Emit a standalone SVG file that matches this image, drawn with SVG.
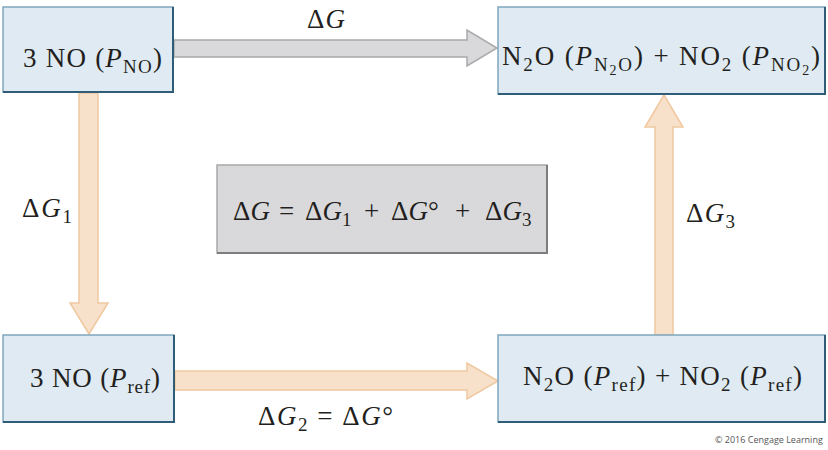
<svg xmlns="http://www.w3.org/2000/svg" width="828" height="450" viewBox="0 0 828 450">
<style>
  .t { font-family: "Liberation Serif", "Times New Roman", serif; font-size: 27px; fill: #231f20; }
  .i { font-style: italic; }
  .s { font-size: 19px; }
  .ss { font-size: 14px; }
  .box { fill: #dfeaf2; stroke: #7fa6bd; stroke-width: 1.5; }
  .shadow { fill: none; stroke: #2f5d78; stroke-width: 2; }
  .gbox { fill: #d9d9db; stroke: #a8a8a8; stroke-width: 1.5; }
  .gshadow { fill: none; stroke: #7d7d7d; stroke-width: 2; }
  .ga { fill: #d9d9db; stroke: #a9a9a9; stroke-width: 1.5; stroke-linejoin: miter; }
  .pa { fill: #f8e1ca; stroke: #efc8a0; stroke-width: 1.5; stroke-linejoin: miter; }
  .copy { font-family: "Open Sans", "Liberation Sans", sans-serif; font-size: 9px; fill: #555; }
</style>
<g id="connectors">
  <polygon class="ga" points="174,40 467,40 467,30 497,48 467,66 467,57 174,57"/>
  <polygon class="pa" points="79,93 79,303 70,303 89,334 108,303 98,303 98,93"/>
  <polygon class="pa" points="655,335 655,127 645,127 664,95 683,127 673,127 673,335"/>
  <polygon class="pa" points="175,371 467,371 467,363 498,381 467,399 467,390 175,390"/>
</g>
<g id="node-3NO-PNO">
  <rect class="box" x="3" y="7" width="170" height="85"/>
  <polyline class="shadow" points="173,7 173,92 3,92"/>
  <text class="t" x="23" y="67" textLength="139" lengthAdjust="spacing">3 NO (<tspan class="i">P</tspan><tspan class="s" dy="6">NO</tspan><tspan dy="-6">)</tspan></text>
</g>
<g id="node-products-P">
  <rect class="box" x="498" y="7" width="327" height="87"/>
  <polyline class="shadow" points="825,7 825,94 498,94"/>
  <text class="t" x="502" y="65" textLength="318" lengthAdjust="spacing">N<tspan class="s" dy="6">2</tspan><tspan dy="-6">O (</tspan><tspan class="i">P</tspan><tspan class="s" dy="6">N</tspan><tspan class="ss" dy="4">2</tspan><tspan class="s" dy="-4">O</tspan><tspan dy="-6">) + NO</tspan><tspan class="s" dy="6">2</tspan><tspan dy="-6"> (</tspan><tspan class="i">P</tspan><tspan class="s" dy="6">NO</tspan><tspan class="ss" dy="4">2</tspan><tspan dy="-10">)</tspan></text>
</g>
<g id="node-3NO-Pref">
  <rect class="box" x="3" y="335" width="171" height="87"/>
  <polyline class="shadow" points="174,335 174,422 3,422"/>
  <text class="t" x="30" y="387" textLength="130" lengthAdjust="spacing">3 NO (<tspan class="i">P</tspan><tspan class="s" dy="6">ref</tspan><tspan dy="-6">)</tspan></text>
</g>
<g id="node-products-Pref">
  <rect class="box" x="498" y="335" width="327" height="87"/>
  <polyline class="shadow" points="825,335 825,422 498,422"/>
  <text class="t" x="523" y="385" textLength="279" lengthAdjust="spacing">N<tspan class="s" dy="6">2</tspan><tspan dy="-6">O (</tspan><tspan class="i">P</tspan><tspan class="s" dy="6">ref</tspan><tspan dy="-6">) + NO</tspan><tspan class="s" dy="6">2</tspan><tspan dy="-6"> (</tspan><tspan class="i">P</tspan><tspan class="s" dy="6">ref</tspan><tspan dy="-6">)</tspan></text>
</g>
<g id="node-equation">
  <rect class="gbox" x="217" y="165" width="330" height="88"/>
  <polyline class="gshadow" points="547,165 547,253 217,253"/>
  <text class="t" y="220"><tspan x="233">Δ</tspan><tspan class="i">G</tspan><tspan x="279">=</tspan><tspan x="305">Δ</tspan><tspan class="i">G</tspan><tspan class="s" dy="6">1</tspan><tspan x="364" dy="-6">+</tspan><tspan x="391">Δ</tspan><tspan class="i">G</tspan>°<tspan x="455">+</tspan><tspan x="485">Δ</tspan><tspan class="i">G</tspan><tspan class="s" dy="6">3</tspan></text>
</g>
<g id="labels">
  <text class="t" x="307" y="28" textLength="38" lengthAdjust="spacing">Δ<tspan class="i">G</tspan></text>
  <text class="t" x="22" y="217" textLength="50" lengthAdjust="spacing">Δ<tspan class="i">G</tspan><tspan class="s" dy="6">1</tspan></text>
  <text class="t" x="686" y="222" textLength="49" lengthAdjust="spacing">Δ<tspan class="i">G</tspan><tspan class="s" dy="6">3</tspan></text>
  <text class="t" x="258" y="425" textLength="135" lengthAdjust="spacing">Δ<tspan class="i">G</tspan><tspan class="s" dy="6">2</tspan><tspan dy="-6"> = Δ</tspan><tspan class="i">G</tspan>°</text>
  <text class="copy" x="715" y="443">© 2016 Cengage Learning</text>
</g>
</svg>
